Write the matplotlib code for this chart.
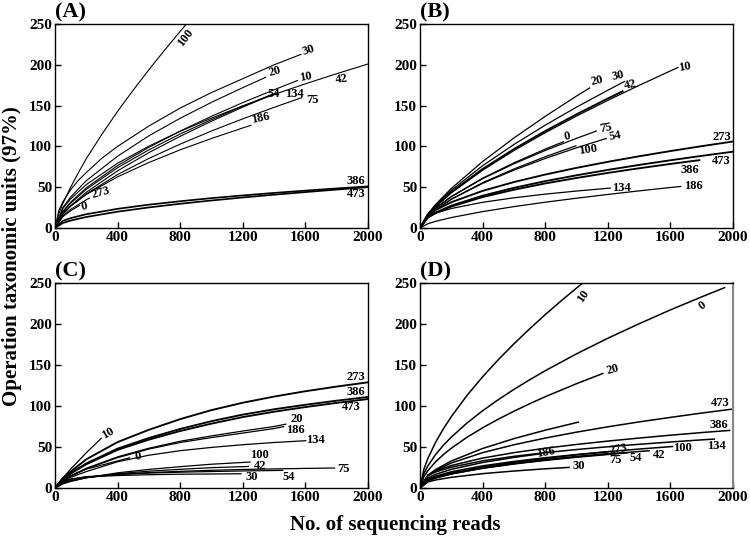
import matplotlib
matplotlib.use("Agg")
import matplotlib.pyplot as plt

plt.rcParams['font.family'] = ['Liberation Serif', 'DejaVu Serif']
plt.rcParams['font.weight'] = 'bold'

G = [0, 50, 100, 200, 400, 600, 800, 1000, 1200, 1400, 1600, 1800, 2000]

# ---------------- Panel A ----------------
A_curves = {
    "100": ([0, 25, 50, 100, 150, 200, 300, 400, 500, 600, 700, 800, 840], [0, 17.6, 30, 50, 68, 85, 114.9, 143, 169, 194, 217.9, 241, 250]),
    "30": ([0, 25, 50, 100, 150, 200, 300, 400, 600, 800, 1000, 1200, 1400, 1575], [0, 21.8, 32, 47, 58.5, 68, 85.6, 100, 125, 147, 166, 183, 200, 213]),
    "20": ([0, 50, 100, 200, 400, 600, 800, 1000, 1200, 1350], [0, 25, 38, 58, 88, 113, 134.5, 154, 172, 185]),
    "10": ([0, 50, 100, 200, 400, 600, 800, 1000, 1200, 1400, 1553], [0, 20.4, 31.7, 49.2, 76.5, 98.9, 118.8, 136.9, 153.7, 169.4, 181]),
    "42": (G, [0, 23.9, 35.7, 53.2, 79.4, 100.3, 118.5, 134.7, 149.7, 163.6, 176.7, 189.1, 201]),
    "54": ([0, 50, 100, 200, 400, 600, 800, 1000, 1200, 1390], [0, 19.5, 30.4, 47.4, 73.9, 95.8, 115.2, 132.8, 149.3, 164]),
    "134": ([0, 50, 100, 200, 400, 600, 800, 1000, 1200, 1420], [0, 17.1, 27.3, 43.8, 70.1, 92.4, 112.4, 130.9, 148.1, 166]),
    "75": ([0, 50, 100, 200, 400, 600, 800, 1000, 1200, 1400, 1580], [0, 17.0, 26.6, 41.7, 65.5, 85.3, 102.8, 118.9, 133.8, 147.9, 160]),
    "186": ([0, 50, 100, 200, 400, 600, 800, 1000, 1200, 1255], [0, 17.6, 26.9, 41.1, 62.7, 80.3, 95.8, 109.7, 122.6, 126]),
    "0": ([0, 50, 100, 160], [0, 13.9, 21.1, 28]),
    "273": ([0, 50, 100, 200, 224], [0, 15, 22.8, 34.6, 37]),
    "386": (G, [0, 8.7, 12.1, 16.9, 23.5, 28.6, 32.8, 36.6, 39.9, 43.0, 45.8, 48.5, 51]),
    "473": (G, [0, 6.1, 9.1, 13.5, 20.0, 25.2, 29.7, 33.7, 37.4, 40.8, 44.0, 47.1, 50]),
}

# ---------------- Panel B ----------------
B_curves = {
    "20": ([0, 50, 100, 200, 400, 600, 800, 1000, 1087], [0, 17.2, 28.9, 48.5, 81.4, 110.3, 136.8, 161.7, 172]),
    "30": ([0, 50, 100, 200, 400, 600, 800, 1000, 1200, 1311], [0, 17, 28, 46.2, 76.3, 102.3, 126, 148.1, 168.8, 180]),
    "42": ([0, 50, 100, 200, 400, 600, 800, 1000, 1200, 1300], [0, 16.4, 26.8, 44, 72.3, 96.7, 118.8, 139.3, 158.7, 168]),
    "10": ([0, 50, 100, 200, 400, 600, 800, 1000, 1200, 1400, 1600, 1652], [0, 15.8, 26.1, 43, 70.8, 94.9, 116.8, 137.2, 156.4, 174.8, 192.5, 197]),
    "0": ([0, 50, 100, 200, 400, 600, 800, 920], [0, 15.3, 24.3, 38.5, 61, 79.8, 96.7, 106]),
    "75": ([0, 50, 100, 200, 400, 600, 800, 1000, 1130], [0, 15.5, 24.4, 38.4, 60.4, 78.7, 95, 109.9, 119]),
    "54": ([0, 50, 100, 200, 400, 600, 800, 1000, 1194], [0, 14.5, 22.6, 35.2, 54.7, 70.9, 85.2, 98.3, 110]),
    "100": ([0, 50, 100, 200, 400, 600, 800, 1000], [0, 14.2, 22.4, 35.3, 55.5, 72.3, 87.3, 101]),
    "273": (G, [0, 15.3, 22, 31.6, 45.5, 56.3, 65.5, 73.7, 81.1, 87.9, 94.3, 100.3, 106]),
    "473": (G, [0, 13.1, 18.9, 27.4, 39.6, 49.2, 57.4, 64.6, 71.2, 77.3, 83, 88.4, 93.5]),
    "386": ([0, 50, 100, 200, 400, 600, 800, 1000, 1200, 1400, 1600, 1791], [0, 12.7, 18.3, 26.3, 37.9, 46.9, 54.6, 61.3, 67.5, 73.2, 78.5, 83.3]),
    "134": ([0, 50, 100, 200, 400, 600, 800, 1000, 1220], [0, 13.8, 18.2, 23.9, 31.5, 37, 41.5, 45.3, 49]),
    "186": ([0, 50, 100, 200, 400, 600, 800, 1000, 1200, 1400, 1600, 1670], [0, 5.2, 8.2, 12.8, 20.1, 26.2, 31.6, 36.5, 41.1, 45.5, 49.6, 51]),
}

# ---------------- Panel C ----------------
C_curves = {
    "273": (G, [0, 12, 20, 35, 56, 71, 84, 95, 104, 111.5, 118, 123.7, 128.9]),
    "386": (G, [0, 11, 18, 30, 48, 61, 72, 81.5, 89.5, 96, 101.5, 106.5, 111]),
    "473": (G, [0, 10.5, 17.5, 29, 46.5, 59, 69.5, 78.5, 86.5, 93, 98.7, 103.8, 108.5]),
    "10": ([0, 50, 100, 200, 298], [0, 12, 23, 43, 61]),
    "20": ([0, 50, 100, 200, 400, 600, 800, 1000, 1200, 1400, 1479], [0, 9, 15, 24, 38, 48.5, 57, 63.5, 69.5, 75, 78]),
    "186": ([0, 50, 100, 200, 400, 600, 800, 1000, 1200, 1400, 1465], [0, 9, 14.5, 23.5, 37, 47.5, 55.5, 61.5, 67, 72.5, 75]),
    "134": ([0, 50, 100, 200, 400, 600, 800, 1000, 1200, 1400, 1606], [0, 8, 13, 20, 32, 40, 45.5, 49.5, 52.8, 55.5, 57.7]),
    "0": ([0, 50, 100, 200, 400, 480], [0, 9, 14.5, 23, 33, 37]),
    "100": ([0, 50, 100, 200, 400, 600, 800, 1000, 1250], [0, 5, 8, 12.5, 18.5, 22.7, 26, 29, 31.7]),
    "42": ([0, 50, 100, 200, 400, 600, 800, 1000, 1240], [0, 5.5, 8.5, 12.5, 17.5, 20.5, 22.8, 24.8, 26.3]),
    "75": ([0, 50, 100, 200, 400, 600, 800, 1000, 1200, 1400, 1600, 1790], [0, 6, 9, 12.8, 16.5, 18.8, 20.3, 21.6, 22.6, 23.3, 23.9, 24.4]),
    "54": ([0, 50, 100, 200, 400, 600, 800, 1000, 1200, 1459], [0, 7, 10.5, 13.8, 16.5, 18.2, 19.3, 20.1, 20.8, 21.5]),
    "30": ([0, 50, 100, 200, 400, 600, 800, 1000, 1193], [0, 8, 11, 13.5, 15.2, 16.2, 16.8, 17.1, 17.4]),
}

# ---------------- Panel D ----------------
D_curves = {
    "10": ([0, 25, 50, 100, 150, 200, 300, 400, 500, 600, 700, 800, 900, 1000, 1040], [0, 23, 35.9, 55.9, 72.4, 87, 112.8, 135.6, 156.4, 175.8, 194, 211.4, 227.9, 243.8, 250]),
    "0": ([0, 25, 50, 100, 150, 200, 300, 400, 500, 600, 700, 800, 1000, 1200, 1400, 1600, 1800, 1951], [0, 17.7, 26.9, 40.9, 52.2, 62, 79.2, 94.2, 107.7, 120.2, 131.9, 143, 163.6, 182.6, 200.3, 217.2, 233.1, 244.7]),
    "20": ([0, 25, 50, 100, 150, 200, 300, 400, 500, 600, 700, 800, 1000, 1173], [0, 13.9, 21.1, 32, 40.8, 48.5, 61.8, 73.4, 83.9, 93.6, 102.7, 111.3, 127.2, 140]),
    "": ([0, 50, 100, 200, 400, 600, 800, 1000, 1017], [0, 15.4, 22.5, 32.9, 48.2, 60.2, 70.5, 79.8, 80.5]),
    "473": (G, [0, 15.2, 21.5, 30.5, 43.1, 52.7, 60.9, 68.1, 74.6, 80.6, 86.1, 91.4, 96.3]),
    "386": ([0, 50, 100, 200, 400, 600, 800, 1000, 1200, 1400, 1600, 1800, 1983], [0, 15.5, 20.7, 27.4, 36.5, 43.1, 48.5, 53.1, 57.2, 60.9, 64.4, 67.6, 70.3]),
    "134": ([0, 50, 100, 200, 400, 600, 800, 1000, 1200, 1400, 1600, 1800, 1885], [0, 15, 19.6, 25.4, 33.1, 38.6, 43.1, 46.9, 50.3, 53.3, 56.1, 58.7, 59.7]),
    "100": ([0, 50, 100, 200, 400, 600, 800, 1000, 1200, 1400, 1619], [0, 10.6, 14.5, 19.8, 27, 32.4, 36.9, 40.8, 44.3, 47.5, 50.7]),
    "273": ([0, 50, 100, 200, 400, 600, 800, 1000, 1215], [0, 9, 12.8, 18.1, 25.5, 31.3, 36.1, 40.4, 44.5]),
    "75": ([0, 50, 100, 200, 400, 600, 800, 1000, 1205], [0, 8.6, 12.1, 17.1, 24.2, 29.6, 34.2, 38.3, 42]),
    "54": ([0, 50, 100, 200, 400, 600, 800, 1000, 1200, 1330], [0, 8.9, 12.4, 17.3, 24.1, 29.3, 33.7, 37.5, 40.9, 43]),
    "42": ([0, 50, 100, 200, 400, 600, 800, 1000, 1200, 1400, 1470], [0, 9.6, 13.2, 18.2, 25, 30.1, 34.4, 38.1, 41.4, 44.5, 45.5]),
    "186": ([0, 50, 100, 200, 400, 600, 780], [0, 12.2, 16.7, 22.8, 31.1, 37.3, 42]),
    "30": ([0, 50, 100, 200, 400, 600, 800, 959], [0, 7.3, 9.8, 13, 17.5, 20.7, 23.4, 25.2]),
}

x_ticks = [0, 400, 800, 1200, 1600, 2000]
y_ticks = [0, 50, 100, 150, 200, 250]

# label placement (data coords of text centre, rotation)
A_labels = {"100": (836, 233, 52), "30": (1617, 218, 18), "20": (1404, 192, 15), "10": (1602, 185, 10),
            "42": (1830, 182, 8), "54": (1395, 164, 0), "134": (1528, 164, 0), "75": (1645, 157, 0),
            "186": (1313, 135, 12), "0": (187, 26, 10), "273": (291, 43, 15), "386": (1922, 58, 0),
            "473": (1922, 42, 0)}
B_labels = {"20": (1130, 181, 12), "30": (1264, 186, 12), "42": (1343, 175, 12), "10": (1691, 197, 10),
            "0": (938, 112, 10), "75": (1188, 123, 10), "54": (1247, 113, 10), "100": (1070, 95.5, 8),
            "273": (1929, 111, 0), "473": (1925, 82.5, 0), "386": (1727, 71, 0), "134": (1290, 49.6, 0),
            "186": (1748, 51.6, 0)}
C_labels = {"10": (340, 67, 30), "273": (1921, 135, 0), "386": (1921, 116.7, 0), "473": (1894, 98.8, 0),
            "20": (1543, 84.5, 0), "186": (1536, 71, 0), "134": (1666, 59, 0), "0": (532, 38.6, 10),
            "100": (1309, 40.7, 0), "42": (1313, 27.2, 0), "75": (1841, 23.6, 0), "30": (1256, 13.4, 0),
            "54": (1496, 13.4, 0)}
D_labels = {"10": (1045, 233.7, 55), "0": (1806, 222, 35), "20": (1230, 144.3, 15), "473": (1919, 103.7, 0),
            "386": (1912, 76.4, 0), "134": (1893, 50.8, 0), "100": (1680, 48.4, 0), "42": (1531, 39.8, 0),
            "54": (1379, 37, 0), "75": (1251, 33.7, 0), "273": (1264, 47.6, 10), "186": (804, 43.9, 10),
            "30": (1013, 27.2, 0)}

panels = [
    ("(A)", A_curves, A_labels, [55, 24, 368, 228], 0.8, {"386", "473"}),
    ("(B)", B_curves, B_labels, [420, 24, 733, 228], 0.9, {"273", "473", "386", "42"}),
    ("(C)", C_curves, C_labels, [55, 283, 368, 488], 0.9, {"273", "386", "473"}),
    ("(D)", D_curves, D_labels, [420, 283, 733, 488], 1.1, set()),
]

W, H = 750, 541
fig = plt.figure(figsize=(W / 100, H / 100), dpi=100)

for title, curves, labels, box, lw, thick in panels:
    l, t, r, b = box
    ax = fig.add_axes([l / W, 1 - b / H, (r - l) / W, (b - t) / H])
    for name, (xs, ys) in curves.items():
        ax.plot(xs, ys, color='black', lw=(lw + 0.45 if name in thick else lw),
                solid_capstyle='butt', solid_joinstyle='round')
    for name, (lx, ly, rot) in labels.items():
        ax.text(lx, ly, name, fontsize=9, fontweight='bold', ha='center', va='center',
                rotation=rot, rotation_mode='anchor')
    ax.set_xlim(0, 2000)
    ax.set_ylim(0, 250)
    ax.set_xticks(x_ticks)
    ax.set_yticks(y_ticks)
    ax.tick_params(direction='in', length=4, width=1, labelsize=11, pad=2)
    for lab in ax.get_xticklabels() + ax.get_yticklabels():
        lab.set_fontweight('bold')
    for s in ax.spines.values():
        s.set_linewidth(1.0)
    if title == "(D)":
        ax.spines['right'].set_color('#888888')
        ax.spines['right'].set_linewidth(1.6)
    fig.text(l / W, 1 - (t - 12) / H, title, fontsize=16, fontweight='bold', ha='left', va='center')

fig.text(12 / W, 1 - 256 / H, "Operation taxonomic units (97%)", rotation=90, fontsize=15,
         fontweight='bold', ha='center', va='center')
fig.text(395 / W, 1 - 525 / H, "No. of sequencing reads", fontsize=15, fontweight='bold',
         ha='center', va='center')

fig.savefig("out.png", dpi=100)
